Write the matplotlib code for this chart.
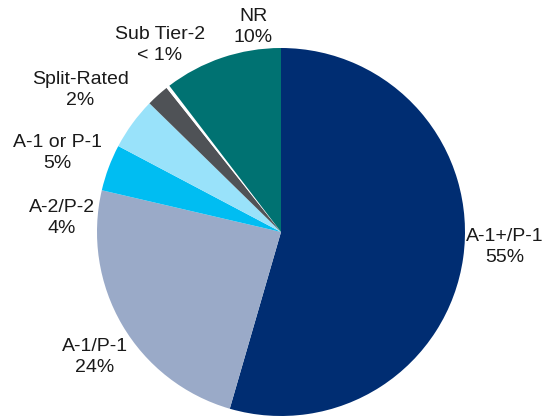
import matplotlib.pyplot as plt

labels = ["A-1+/P-1", "A-1/P-1", "A-2/P-2", "A-1 or P-1", "Split-Rated", "Sub Tier-2", "NR"]
shown = ["55%", "24%", "4%", "5%", "2%", "< 1%", "10%"]
values = [54.6, 24.2, 4.1, 4.6, 2.0, 0.3, 10.4]
colors = ["#002D72", "#9AAAC8", "#00BDF2", "#99E2FA", "#4F5256", "#FFFFFF", "#007272"]

# label centres (in pie radius units), picked to sit where the original put them
label_pos = [(1.217, -0.082), (-1.011, -0.679), (-1.19, 0.076), (-1.217, 0.429),
             (-1.092, 0.772), (-0.658, 1.016), (-0.152, 1.114)]

plt.rcParams['font.family'] = ['Liberation Sans', 'DejaVu Sans']

fig = plt.figure(figsize=(5.48, 4.16), dpi=100)
r = 184
ax = fig.add_axes([(281 - r) / 548, (416 - 232 - r) / 416, 2 * r / 548, 2 * r / 416])
wedges, _ = ax.pie(values, colors=colors, startangle=90, counterclock=False,
                   wedgeprops=dict(linewidth=0))
ax.set_xlim(-1, 1)
ax.set_ylim(-1, 1)
ax.set_aspect('equal')
ax.axis('off')

for name, pct, (x, y) in zip(labels, shown, label_pos):
    ax.text(x, y, name + "\n" + pct, ha='center', va='center', fontsize=14,
            color='#1a1a1a', linespacing=1.35, clip_on=False)

fig.savefig("out.png", dpi=100)
